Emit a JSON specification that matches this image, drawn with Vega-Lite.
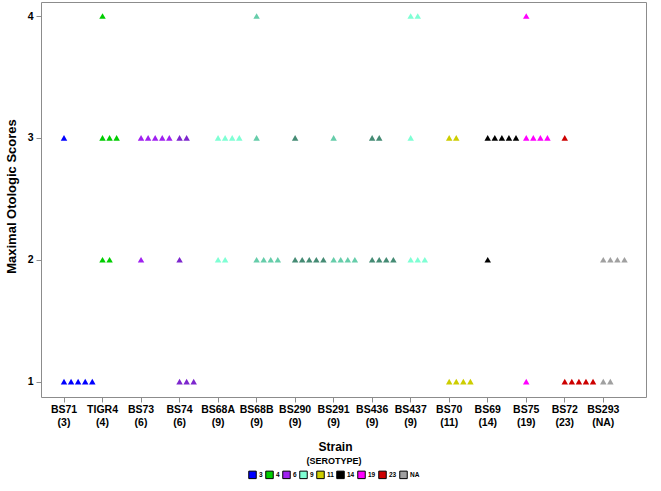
{
  "$schema": "https://vega.github.io/schema/vega-lite/v6.json",
  "autosize": {"type": "none"},
  "padding": {"left": 41, "top": 2, "right": 15, "bottom": 94},
  "width": 605,
  "height": 395,
  "background": "white",
  "config": {
    "view": {"stroke": "#8c8c8c", "strokeWidth": 1},
    "font": "Liberation Sans"
  },
  "data": {
    "values": [
      {"strain": "BS71 (3)", "serotype": "3", "score": 3},
      {"strain": "BS71 (3)", "serotype": "3", "score": 1},
      {"strain": "BS71 (3)", "serotype": "3", "score": 1},
      {"strain": "BS71 (3)", "serotype": "3", "score": 1},
      {"strain": "BS71 (3)", "serotype": "3", "score": 1},
      {"strain": "BS71 (3)", "serotype": "3", "score": 1},
      {"strain": "TIGR4 (4)", "serotype": "4", "score": 4},
      {"strain": "TIGR4 (4)", "serotype": "4", "score": 3},
      {"strain": "TIGR4 (4)", "serotype": "4", "score": 3},
      {"strain": "TIGR4 (4)", "serotype": "4", "score": 3},
      {"strain": "TIGR4 (4)", "serotype": "4", "score": 2},
      {"strain": "TIGR4 (4)", "serotype": "4", "score": 2},
      {"strain": "BS73 (6)", "serotype": "6", "score": 3},
      {"strain": "BS73 (6)", "serotype": "6", "score": 3},
      {"strain": "BS73 (6)", "serotype": "6", "score": 3},
      {"strain": "BS73 (6)", "serotype": "6", "score": 3},
      {"strain": "BS73 (6)", "serotype": "6", "score": 3},
      {"strain": "BS73 (6)", "serotype": "6", "score": 2},
      {"strain": "BS74 (6)", "serotype": "6", "score": 3},
      {"strain": "BS74 (6)", "serotype": "6", "score": 3},
      {"strain": "BS74 (6)", "serotype": "6", "score": 2},
      {"strain": "BS74 (6)", "serotype": "6", "score": 1},
      {"strain": "BS74 (6)", "serotype": "6", "score": 1},
      {"strain": "BS74 (6)", "serotype": "6", "score": 1},
      {"strain": "BS68A (9)", "serotype": "9", "score": 3},
      {"strain": "BS68A (9)", "serotype": "9", "score": 3},
      {"strain": "BS68A (9)", "serotype": "9", "score": 3},
      {"strain": "BS68A (9)", "serotype": "9", "score": 3},
      {"strain": "BS68A (9)", "serotype": "9", "score": 2},
      {"strain": "BS68A (9)", "serotype": "9", "score": 2},
      {"strain": "BS68B (9)", "serotype": "9", "score": 4},
      {"strain": "BS68B (9)", "serotype": "9", "score": 3},
      {"strain": "BS68B (9)", "serotype": "9", "score": 2},
      {"strain": "BS68B (9)", "serotype": "9", "score": 2},
      {"strain": "BS68B (9)", "serotype": "9", "score": 2},
      {"strain": "BS68B (9)", "serotype": "9", "score": 2},
      {"strain": "BS290 (9)", "serotype": "9", "score": 3},
      {"strain": "BS290 (9)", "serotype": "9", "score": 2},
      {"strain": "BS290 (9)", "serotype": "9", "score": 2},
      {"strain": "BS290 (9)", "serotype": "9", "score": 2},
      {"strain": "BS290 (9)", "serotype": "9", "score": 2},
      {"strain": "BS290 (9)", "serotype": "9", "score": 2},
      {"strain": "BS291 (9)", "serotype": "9", "score": 3},
      {"strain": "BS291 (9)", "serotype": "9", "score": 2},
      {"strain": "BS291 (9)", "serotype": "9", "score": 2},
      {"strain": "BS291 (9)", "serotype": "9", "score": 2},
      {"strain": "BS291 (9)", "serotype": "9", "score": 2},
      {"strain": "BS436 (9)", "serotype": "9", "score": 3},
      {"strain": "BS436 (9)", "serotype": "9", "score": 3},
      {"strain": "BS436 (9)", "serotype": "9", "score": 2},
      {"strain": "BS436 (9)", "serotype": "9", "score": 2},
      {"strain": "BS436 (9)", "serotype": "9", "score": 2},
      {"strain": "BS436 (9)", "serotype": "9", "score": 2},
      {"strain": "BS437 (9)", "serotype": "9", "score": 4},
      {"strain": "BS437 (9)", "serotype": "9", "score": 4},
      {"strain": "BS437 (9)", "serotype": "9", "score": 3},
      {"strain": "BS437 (9)", "serotype": "9", "score": 2},
      {"strain": "BS437 (9)", "serotype": "9", "score": 2},
      {"strain": "BS437 (9)", "serotype": "9", "score": 2},
      {"strain": "BS70 (11)", "serotype": "11", "score": 3},
      {"strain": "BS70 (11)", "serotype": "11", "score": 3},
      {"strain": "BS70 (11)", "serotype": "11", "score": 1},
      {"strain": "BS70 (11)", "serotype": "11", "score": 1},
      {"strain": "BS70 (11)", "serotype": "11", "score": 1},
      {"strain": "BS70 (11)", "serotype": "11", "score": 1},
      {"strain": "BS69 (14)", "serotype": "14", "score": 3},
      {"strain": "BS69 (14)", "serotype": "14", "score": 3},
      {"strain": "BS69 (14)", "serotype": "14", "score": 3},
      {"strain": "BS69 (14)", "serotype": "14", "score": 3},
      {"strain": "BS69 (14)", "serotype": "14", "score": 3},
      {"strain": "BS69 (14)", "serotype": "14", "score": 2},
      {"strain": "BS75 (19)", "serotype": "19", "score": 4},
      {"strain": "BS75 (19)", "serotype": "19", "score": 3},
      {"strain": "BS75 (19)", "serotype": "19", "score": 3},
      {"strain": "BS75 (19)", "serotype": "19", "score": 3},
      {"strain": "BS75 (19)", "serotype": "19", "score": 3},
      {"strain": "BS75 (19)", "serotype": "19", "score": 1},
      {"strain": "BS72 (23)", "serotype": "23", "score": 3},
      {"strain": "BS72 (23)", "serotype": "23", "score": 1},
      {"strain": "BS72 (23)", "serotype": "23", "score": 1},
      {"strain": "BS72 (23)", "serotype": "23", "score": 1},
      {"strain": "BS72 (23)", "serotype": "23", "score": 1},
      {"strain": "BS72 (23)", "serotype": "23", "score": 1},
      {"strain": "BS293 (NA)", "serotype": "NA", "score": 2},
      {"strain": "BS293 (NA)", "serotype": "NA", "score": 2},
      {"strain": "BS293 (NA)", "serotype": "NA", "score": 2},
      {"strain": "BS293 (NA)", "serotype": "NA", "score": 2},
      {"strain": "BS293 (NA)", "serotype": "NA", "score": 1},
      {"strain": "BS293 (NA)", "serotype": "NA", "score": 1}
    ]
  },
  "transform": [
    {"window": [{"op": "row_number", "as": "k"}], "groupby": ["strain", "score"]}
  ],
  "encoding": {
    "x": {
      "field": "strain",
      "type": "nominal",
      "scale": {
        "type": "band",
        "domain": ["BS71 (3)", "TIGR4 (4)", "BS73 (6)", "BS74 (6)", "BS68A (9)", "BS68B (9)", "BS290 (9)", "BS291 (9)", "BS436 (9)", "BS437 (9)", "BS70 (11)", "BS69 (14)", "BS75 (19)", "BS72 (23)", "BS293 (NA)"],
        "range": [3.74, 581.54],
        "paddingInner": 0,
        "paddingOuter": 0
      },
      "axis": {
        "labelAngle": 0,
        "labelExpr": "split(datum.label, ' ')",
        "labelFont": "Liberation Sans",
        "labelFontSize": 10.5,
        "labelFontWeight": "bold",
        "labelColor": "black",
        "labelLineHeight": 13,
        "labelPadding": 2,
        "labelBaseline": "top",
        "tickSize": 5,
        "tickColor": "#8c8c8c",
        "domain": false,
        "grid": false,
        "title": "Strain",
        "titleFont": "Liberation Sans",
        "titleFontSize": 12,
        "titleFontWeight": "bold",
        "titleColor": "black",
        "titleX": 294,
        "titleY": 53,
        "titleBaseline": "alphabetic",
        "titleAnchor": null
      }
    },
    "xOffset": {
      "field": "k",
      "type": "quantitative",
      "scale": {"domain": [1, 2], "range": [19.26, 26.33]}
    },
    "y": {
      "field": "score",
      "type": "quantitative",
      "scale": {"domain": [0.874, 4.115], "nice": false, "zero": false},
      "axis": {
        "values": [1, 2, 3, 4],
        "format": "d",
        "labelFont": "Liberation Sans",
        "labelFontSize": 10.5,
        "labelFontWeight": "bold",
        "labelColor": "black",
        "labelPadding": 3,
        "tickSize": 5,
        "tickColor": "#8c8c8c",
        "domain": false,
        "grid": false,
        "title": "Maximal Otologic Scores",
        "titleFont": "Liberation Sans",
        "titleFontSize": 13,
        "titleFontWeight": "bold",
        "titleColor": "black",
        "titleAngle": -90,
        "titleX": -30,
        "titleY": 194,
        "titleAlign": "center",
        "titleBaseline": "middle",
        "titleAnchor": null
      }
    }
  },
  "layer": [
    {
      "mark": {"type": "point", "shape": "square", "filled": true, "opacity": 0, "size": 40},
      "encoding": {
        "color": {
          "field": "serotype",
          "type": "nominal",
          "scale": {
            "domain": ["3", "4", "6", "9", "11", "14", "19", "23", "NA"],
            "range": ["#0000ff", "#00cd00", "#a020f0", "#7fffd4", "#cdcd00", "#000000", "#ff00ff", "#cd0000", "#a0a0a0"]
          },
          "legend": {
            "orient": "none",
            "direction": "horizontal",
            "columns": 9,
            "legendX": 207,
            "legendY": 455,
            "padding": 0,
            "title": "(SEROTYPE)",
            "titleOrient": "top",
            "titleAnchor": "middle",
            "titleFont": "Liberation Sans",
            "titleFontSize": 9,
            "titleFontWeight": "bold",
            "titleColor": "black",
            "titlePadding": 4,
            "symbolType": "square",
            "symbolSize": 56,
            "symbolOpacity": 1,
            "symbolStrokeColor": "black",
            "symbolStrokeWidth": 1,
            "labelFont": "Liberation Sans",
            "labelFontSize": 6.5,
            "labelFontWeight": "bold",
            "labelColor": "black",
            "labelOffset": 2,
            "columnPadding": 0,
            "encode": {
              "symbols": {
                "update": {
                  "opacity": {"value": 1},
                  "fillOpacity": {"value": 1},
                  "stroke": {"value": "black"},
                  "strokeWidth": {"value": 1}
                }
              }
            }
          }
        }
      }
    },
    {
      "mark": {"type": "point", "shape": "triangle-up", "filled": true, "opacity": 1, "size": 42},
      "encoding": {
        "fill": {
          "field": "strain",
          "type": "nominal",
          "scale": {
            "domain": ["BS71 (3)", "TIGR4 (4)", "BS73 (6)", "BS74 (6)", "BS68A (9)", "BS68B (9)", "BS290 (9)", "BS291 (9)", "BS436 (9)", "BS437 (9)", "BS70 (11)", "BS69 (14)", "BS75 (19)", "BS72 (23)", "BS293 (NA)"],
            "range": ["#0000ff", "#00cd00", "#a020f0", "#7d26cd", "#7fffd4", "#66cdaa", "#458b74", "#66cdaa", "#458b74", "#7fffd4", "#cdcd00", "#000000", "#ff00ff", "#cd0000", "#a0a0a0"]
          },
          "legend": null
        }
      }
    }
  ]
}
